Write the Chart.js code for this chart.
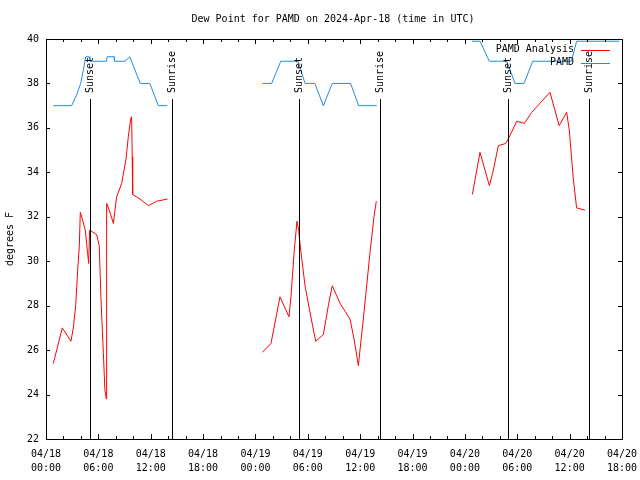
<!DOCTYPE html>
<html>
<head>
<meta charset="utf-8">
<script src="https://cdn.jsdelivr.net/npm/chart.js@4.4.1/dist/chart.umd.min.js"></script>
<style>
  body { margin: 0; background: #fff; }
  canvas { display: block; }
</style>
</head>
<body>
<canvas id="dew-chart" width="640" height="480"></canvas>
<script>
// hours since 2024-04-18 00:00 UTC, null splits the runs
const analysisHours = [
    0.84, 1.87, 2.86, 3.13, 3.4, 3.63, 3.82, 3.93, 4.16, 4.5, 4.76, 4.89, 5.0, 5.8, 6.1, 6.3, 6.57, 6.75, 6.91, 6.95,
    7.25, 7.72, 7.87, 8.1, 8.67, 9.17, 9.43, 9.7, 9.81, 9.88, 9.93, 10.77, 11.73, 12.68, 13.94,
    null,
    24.79, 25.78, 26.81, 27.84, 28.07, 28.45, 28.76, 28.95, 29.1, 29.68, 30.25, 30.9, 31.78, 32.35, 32.8, 33.7,
    34.83, 35.3, 35.79, 36.36, 37.13, 37.58, 37.85,
    null,
    48.85, 49.73, 50.8, 51.26, 51.83, 52.68, 52.97, 53.94, 54.81, 55.65, 57.75, 58.8, 59.66, 59.96, 60.42, 60.8, 61.76
];
const analysisDew = [
    25.4, 27.0, 26.4, 27.0, 28.0, 29.6, 30.7, 32.2, 31.9, 31.4, 30.4, 29.9, 31.4, 31.2, 30.7, 28.3, 25.9, 24.2, 23.8, 32.6,
    32.3, 31.7, 32.2, 32.9, 33.5, 34.6, 35.6, 36.4, 36.5, 34.7, 33.0, 32.8, 32.5, 32.7, 32.8,
    null,
    25.9, 26.3, 28.4, 27.5, 28.4, 30.5, 31.8, 31.4, 30.8, 28.9, 27.7, 26.4, 26.7, 28.0, 28.9, 28.1,
    27.4, 26.5, 25.3, 27.4, 30.4, 32.0, 32.7,
    null,
    33.0, 34.9, 33.4, 34.1, 35.2, 35.3, 35.5, 36.3, 36.2, 36.7, 37.6, 36.1, 36.7, 35.9, 33.7, 32.4, 32.3
];

const obsHours = [
    0.84, 2.94, 3.52, 3.97, 4.28, 4.55, 4.96, 5.04, 6.96, 7.0, 7.8, 7.85, 9.05, 9.6, 10.8, 11.9, 12.87, 13.9,
    null,
    24.8, 25.86, 26.9, 28.9, 29.68, 30.8, 31.78, 32.8, 34.9, 35.83, 37.9,
    null,
    48.78, 49.73, 50.8, 52.8, 53.74, 54.77, 55.77, 60.2, 60.8, 65.7
];
const obsDew = [
    37.0, 37.0, 37.5, 38.0, 38.6, 39.2, 39.2, 39.0, 39.0, 39.2, 39.2, 39.0, 39.0, 39.2, 38.0, 38.0, 37.0, 37.0,
    null,
    38.0, 38.0, 39.0, 39.0, 38.0, 38.0, 37.0, 38.0, 38.0, 37.0, 37.0,
    null,
    39.9, 39.9, 39.0, 39.0, 38.0, 38.0, 39.0, 39.0, 39.9, 39.9
];

const sunsetHours = [5.08, 29.02, 52.97];
const sunriseHours = [14.47, 38.3, 62.25];

const xTickDates = ['04/18', '04/18', '04/18', '04/18', '04/19', '04/19', '04/19', '04/19', '04/20', '04/20', '04/20', '04/20'];
const xTickTimes = ['00:00', '06:00', '12:00', '18:00', '00:00', '06:00', '12:00', '18:00', '00:00', '06:00', '12:00', '18:00'];

const FONT = '"DejaVu Sans Mono", "Liberation Mono", monospace';

function toPoints(xs, ys) {
    return xs.map((x, i) => ({ x: x === null ? NaN : x, y: ys[i] }));
}

// gnuplot-like frame, inward ticks, sun lines, title and legend
const decor = {
    id: 'decor',
    afterDatasetsDraw(chart) {
        const { ctx, chartArea: a, scales: { x, y } } = chart;
        ctx.save();
        ctx.strokeStyle = '#000';
        ctx.lineWidth = 1;

        // sunset / sunrise markers
        const marks = sunsetHours.map(h => [h, 'Sunset']).concat(sunriseHours.map(h => [h, 'Sunrise']));
        ctx.font = '10px ' + FONT;
        ctx.fillStyle = '#000';
        marks.forEach(([h, label]) => {
            const px = Math.round(x.getPixelForValue(h)) + 0.5;
            ctx.beginPath();
            ctx.moveTo(px, a.top + 60);
            ctx.lineTo(px, a.bottom);
            ctx.stroke();
            ctx.save();
            ctx.translate(px, a.top + 54);
            ctx.rotate(-Math.PI / 2);
            ctx.textAlign = 'left';
            ctx.textBaseline = 'middle';
            ctx.fillText(label, 0, 0);
            ctx.restore();
        });

        // frame
        ctx.strokeRect(Math.round(a.left) + 0.5, Math.round(a.top) + 0.5,
            Math.round(a.right - a.left), Math.round(a.bottom - a.top));

        // ticks
        ctx.beginPath();
        for (let h = 0; h <= 66; h += 2) {
            const px = Math.round(x.getPixelForValue(h)) + 0.5;
            const len = h % 6 === 0 ? 5 : 3;
            ctx.moveTo(px, a.bottom); ctx.lineTo(px, a.bottom - len);
            ctx.moveTo(px, a.top); ctx.lineTo(px, a.top + len);
        }
        for (let v = 22; v <= 40; v += 2) {
            const py = Math.round(y.getPixelForValue(v)) + 0.5;
            ctx.moveTo(a.left, py); ctx.lineTo(a.left + 4, py);
            ctx.moveTo(a.right, py); ctx.lineTo(a.right - 4, py);
        }
        ctx.stroke();

        // legend
        ctx.font = '10px ' + FONT;
        ctx.textAlign = 'right';
        ctx.textBaseline = 'middle';
        chart.data.datasets.forEach((ds, i) => {
            const ly = a.top + 10.5 + i * 13;
            ctx.fillStyle = '#000';
            ctx.fillText(ds.label, a.right - 48, ly);
            ctx.strokeStyle = ds.borderColor;
            ctx.beginPath();
            ctx.moveTo(a.right - 41, Math.round(ly) + 0.5);
            ctx.lineTo(a.right - 12, Math.round(ly) + 0.5);
            ctx.stroke();
        });

        // title
        ctx.fillStyle = '#000';
        ctx.textAlign = 'center';
        ctx.fillText('Dew Point for PAMD on 2024-Apr-18 (time in UTC)', 333, 19);
        ctx.restore();
    }
};

const dewChart = new Chart(document.getElementById('dew-chart').getContext('2d'), {
    type: 'line',
    data: {
        datasets: [
            {
                label: 'PAMD Analysis',
                data: toPoints(analysisHours, analysisDew),
                borderColor: '#ff0000',
                borderWidth: 1,
                pointRadius: 0,
                tension: 0,
                spanGaps: false
            },
            {
                label: 'PAMD',
                data: toPoints(obsHours, obsDew),
                borderColor: '#1e8ce6',
                borderWidth: 1,
                pointRadius: 0,
                tension: 0,
                spanGaps: false
            }
        ]
    },
    options: {
        responsive: false,
        animation: false,
        layout: { padding: { top: 39, right: 18, left: 0, bottom: 0 } },
        plugins: {
            legend: { display: false },
            title: { display: false },
            tooltip: { enabled: false }
        },
        scales: {
            x: {
                type: 'linear',
                min: 0,
                max: 66,
                grid: { display: false, drawTicks: false },
                border: { display: false },
                afterFit: s => { s.height = 41; s.paddingLeft = 0; s.paddingRight = 0; },
                ticks: {
                    stepSize: 6,
                    autoSkip: false,
                    maxRotation: 0,
                    padding: 8,
                    color: '#000',
                    font: { family: FONT, size: 10, lineHeight: 1.4 },
                    callback: v => [xTickDates[v / 6], xTickTimes[v / 6]]
                }
            },
            y: {
                min: 22,
                max: 40,
                grid: { display: false, drawTicks: false },
                border: { display: false },
                afterFit: s => { s.width = 46; s.paddingTop = 0; s.paddingBottom = 0; },
                title: {
                    display: true,
                    text: 'degrees F',
                    color: '#000',
                    font: { family: FONT, size: 10 },
                    padding: { top: 4, bottom: 0 }
                },
                ticks: {
                    stepSize: 2,
                    padding: 7,
                    color: '#000',
                    font: { family: FONT, size: 10 }
                }
            }
        }
    },
    plugins: [decor]
});
</script>
</body>
</html>
